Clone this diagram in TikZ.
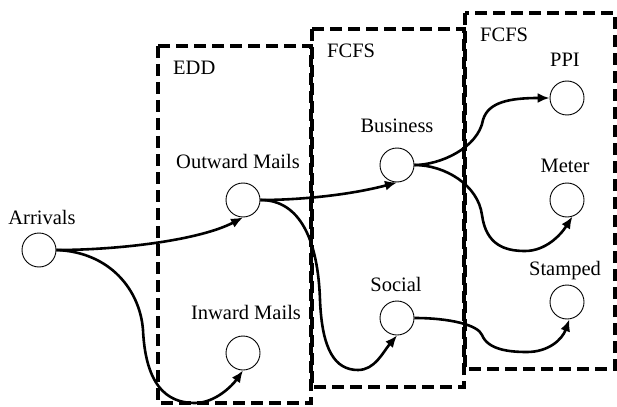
\documentclass[tikz,border=0pt]{standalone}
\usepackage{fontspec}
\setmainfont{Liberation Serif}
\usetikzlibrary{arrows.meta}
\begin{document}
\begin{tikzpicture}[x=1pt,y=-1pt,
  station/.style={draw,circle,minimum size=34pt,inner sep=0pt,line width=0.9pt},
  lbl/.style={anchor=base,inner sep=0pt,font=\fontsize{20.5}{24}\selectfont},
  boxlbl/.style={anchor=base west,inner sep=0pt,font=\fontsize{20.5}{24}\selectfont},
  group/.style={draw,line width=4pt,dash pattern=on 12pt off 6pt},
  flow/.style={line width=2.6pt,-{Latex[length=12pt,width=10pt]}}]
\useasboundingbox (0,0) rectangle (617,406);
% queue groups
\draw[group] (158,46) rectangle (311,403);
\draw[group] (312,29) rectangle (464,387);
\draw[group] (465,13) rectangle (615,369);
\node[boxlbl] (edd) at (173,75) {EDD};
\node[boxlbl] (fcfs1) at (327,58) {FCFS};
\node[boxlbl] (fcfs2) at (480,42) {FCFS};
% stations
\node[station] (arr) at (39,250) {};
\node[station] (oum) at (243,200) {};
\node[station] (inm) at (243,353) {};
\node[station] (bus) at (397,165) {};
\node[station] (soc) at (397,318) {};
\node[station] (ppi) at (567,98) {};
\node[station] (mtr) at (567,200) {};
\node[station] (stp) at (567,302) {};
% labels
\node[lbl] (larr) at (42,224) {Arrivals};
\node[lbl] (loum) at (238,168) {Outward Mails};
\node[lbl] (linm) at (246,319) {Inward Mails};
\node[lbl] (lbus) at (397,133) {Business};
\node[lbl] (lsoc) at (396,291) {Social};
\node[lbl] (lppi) at (565,67) {PPI};
\node[lbl] (lmtr) at (565,172) {Meter};
\node[lbl] (lstp) at (565,275) {Stamped};
% flows
\draw[flow] (arr.east) .. controls (120,250) and (200,240) .. (oum.south);
\draw[flow] (arr.east) .. controls (110,252) and (140,290) .. (143,330)
  .. controls (146,395) and (175,403) .. (195,403)
  .. controls (215,403) and (232,386) .. (inm.south);
\draw[flow] (oum.east) .. controls (300,200) and (350,195) .. (bus.south);
\draw[flow] (oum.east) .. controls (300,200) and (318,240) .. (320,300)
  .. controls (322,350) and (335,370) .. (358,370)
  .. controls (375,370) and (383,352) .. (soc.south);
\draw[flow] (bus.east) .. controls (440,165) and (478,148) .. (483,120)
  .. controls (488,102) and (510,98) .. (ppi.west);
\draw[flow] (bus.east) .. controls (445,165) and (478,185) .. (482,215)
  .. controls (486,245) and (505,251) .. (525,251)
  .. controls (545,251) and (560,236) .. (mtr.-72);
\draw[flow] (soc.east) .. controls (450,318) and (478,325) .. (482,335)
  .. controls (488,350) and (510,352) .. (527,352)
  .. controls (548,352) and (562,340) .. (stp.-82);
\end{tikzpicture}
\end{document}
